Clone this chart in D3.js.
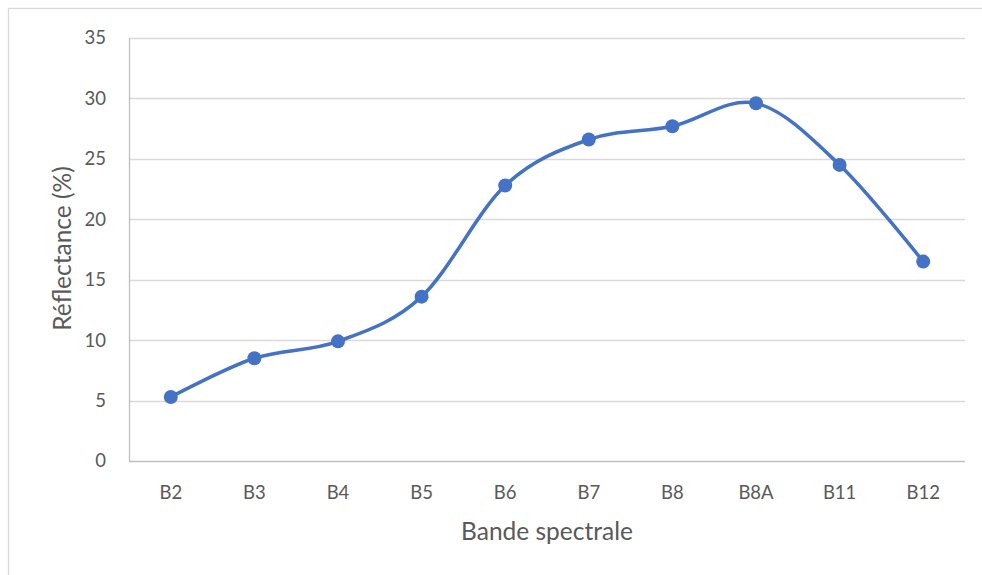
<!DOCTYPE html>
<html>
<head>
<meta charset="utf-8">
<script src="https://cdn.jsdelivr.net/npm/d3@7"></script>
<style>
  body { margin: 0; background: #fff; }
  text { font-family: Lato, "Open Sans", sans-serif; fill: #595959; }
</style>
</head>
<body>
<div id="chart"></div>
<script>
const bands = ["B2", "B3", "B4", "B5", "B6", "B7", "B8", "B8A", "B11", "B12"];
const reflectance = [5.3, 8.5, 9.9, 13.6, 22.8, 26.6, 27.7, 29.6, 24.5, 16.5];
const yTicks = [0, 5, 10, 15, 20, 25, 30, 35];

const W = 982, H = 575;
const margin = { top: 38, right: 17, bottom: 114, left: 129 };
const width = W - margin.left - margin.right;
const height = H - margin.top - margin.bottom;

const root = d3.select("#chart").append("svg")
    .attr("width", W)
    .attr("height", H);

// chart area border
root.append("rect")
    .attr("x", 8.5).attr("y", 8.5)
    .attr("width", W).attr("height", H)
    .attr("fill", "none")
    .attr("stroke", "#d9d9d9")
    .attr("stroke-width", 1.3);

const svg = root.append("g")
    .attr("transform", `translate(${margin.left},${margin.top})`);

const x = d3.scaleBand().domain(bands).range([0, width]);
const y = d3.scaleLinear().domain([0, 35]).range([height, 0]);

// gridlines
svg.selectAll(".grid")
    .data(yTicks.filter(d => d > 0))
    .enter().append("line")
    .attr("x1", 0).attr("x2", width)
    .attr("y1", d => Math.round(y(d)) + 0.5)
    .attr("y2", d => Math.round(y(d)) + 0.5)
    .attr("stroke", "#d9d9d9")
    .attr("stroke-width", 1.3);

// axis lines
svg.append("line")
    .attr("x1", 0.5).attr("x2", 0.5)
    .attr("y1", 0).attr("y2", height)
    .attr("stroke", "#bfbfbf").attr("stroke-width", 1.3);
svg.append("line")
    .attr("x1", 0).attr("x2", width)
    .attr("y1", height + 0.5).attr("y2", height + 0.5)
    .attr("stroke", "#bfbfbf").attr("stroke-width", 1.3);

// tick labels
svg.selectAll(".ylab")
    .data(yTicks)
    .enter().append("text")
    .attr("x", -23)
    .attr("y", d => y(d))
    .attr("dy", "0.35em")
    .attr("text-anchor", "end")
    .style("font-size", "18.5px")
    .text(d => d);

svg.selectAll(".xlab")
    .data(bands)
    .enter().append("text")
    .attr("x", d => x(d) + x.bandwidth() / 2)
    .attr("y", height + 32)
    .attr("dy", "0.35em")
    .attr("text-anchor", "middle")
    .style("font-size", "18.5px")
    .text(d => d);

// axis titles
svg.append("text")
    .attr("x", width / 2)
    .attr("y", height + 70)
    .attr("dy", "0.35em")
    .attr("text-anchor", "middle")
    .style("font-size", "24.5px")
    .text("Bande spectrale");

svg.append("text")
    .attr("transform", "rotate(-90)")
    .attr("x", -(height / 2) + 1)
    .attr("y", -67)
    .attr("dy", "0.35em")
    .attr("text-anchor", "middle")
    .style("font-size", "24.5px")
    .text("Réflectance (%)");

// series
const data = bands.map((b, i) => ({ band: b, value: reflectance[i] }));
const line = d3.line()
    .x(d => x(d.band) + x.bandwidth() / 2)
    .y(d => y(d.value))
    .curve(d3.curveCardinal.tension(0));

svg.append("path")
    .datum(data)
    .attr("fill", "none")
    .attr("stroke", "#4472c4")
    .attr("stroke-width", 3.5)
    .attr("stroke-linejoin", "round")
    .attr("d", line);

svg.selectAll(".dot")
    .data(data)
    .enter().append("circle")
    .attr("cx", d => x(d.band) + x.bandwidth() / 2)
    .attr("cy", d => y(d.value))
    .attr("r", 7)
    .attr("fill", "#4472c4");
</script>
</body>
</html>
